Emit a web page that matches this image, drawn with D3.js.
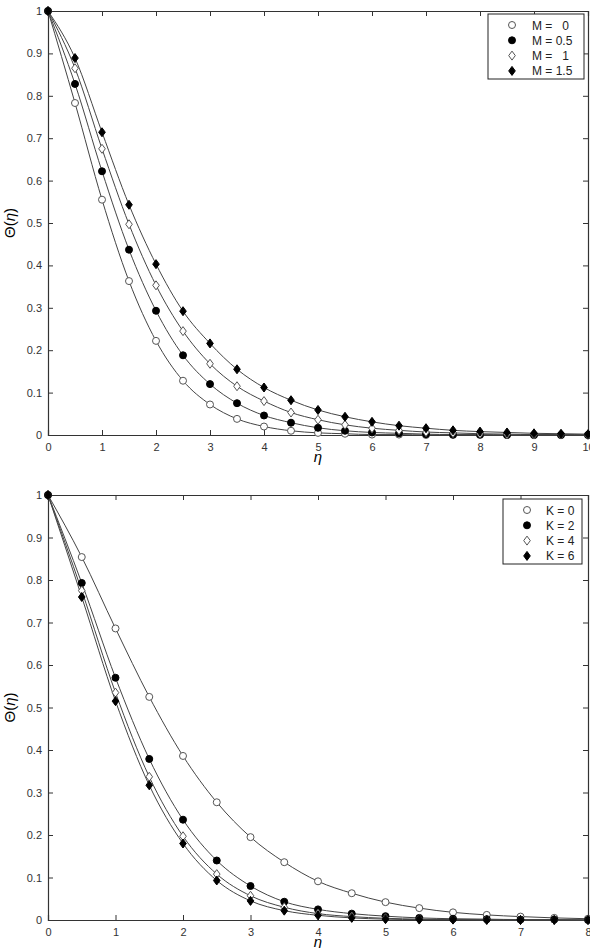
<!DOCTYPE html>
<html><head><meta charset="utf-8">
<script src="https://cdn.jsdelivr.net/npm/d3@7"></script>
<style>
body{margin:0;background:#fff;}
svg{display:block;}
text{font-family:"Liberation Sans",Arial,sans-serif;}
</style></head>
<body><svg id="c" width="590" height="948"></svg>
<script>
// ---- Top panel (effect of M) ----
const etaTop = [0,0.5,1,1.5,2,2.5,3,3.5,4,4.5,5,5.5,6,6.5,7,7.5,8,8.5,9,9.5,10];
const thetaM0   = [1,0.783,0.555,0.363,0.222,0.128,0.072,0.038,0.020,0.010,0.005,0.003,0.001,0.001,0,0,0,0,0,0,0];
const thetaM05  = [1,0.828,0.622,0.437,0.293,0.188,0.120,0.075,0.046,0.029,0.017,0.010,0.006,0.004,0.002,0.001,0.001,0,0,0,0];
const thetaM1   = [1,0.865,0.675,0.497,0.353,0.245,0.168,0.115,0.080,0.053,0.036,0.024,0.016,0.011,0.007,0.005,0.003,0.002,0.001,0.001,0];
const thetaM15  = [1,0.889,0.714,0.543,0.403,0.292,0.216,0.155,0.112,0.082,0.059,0.043,0.031,0.022,0.016,0.011,0.008,0.006,0.004,0.003,0.002];
const labelsTop = ["M =   0","M = 0.5","M =   1","M = 1.5"];
const xTicksTop = [0,1,2,3,4,5,6,7,8,9,10];

// ---- Bottom panel (effect of K) ----
const etaBot = [0,0.5,1,1.5,2,2.5,3,3.5,4,4.5,5,5.5,6,6.5,7,7.5,8];
const thetaK0 = [1,0.854,0.686,0.525,0.386,0.277,0.195,0.136,0.091,0.063,0.042,0.028,0.018,0.012,0.008,0.005,0.003];
const thetaK2 = [1,0.793,0.570,0.379,0.236,0.140,0.080,0.043,0.025,0.015,0.009,0.005,0.003,0.002,0.001,0.001,0];
const thetaK4 = [1,0.775,0.535,0.337,0.197,0.108,0.057,0.030,0.015,0.008,0.004,0.002,0.001,0.001,0,0,0];
const thetaK6 = [1,0.760,0.515,0.317,0.180,0.093,0.045,0.022,0.011,0.005,0.002,0.001,0.001,0,0,0,0];
const labelsBot = ["K = 0","K = 2","K = 4","K = 6"];
const xTicksBot = [0,1,2,3,4,5,6,7,8];

const yTicks = [0,0.1,0.2,0.3,0.4,0.5,0.6,0.7,0.8,0.9,1];
const markerTypes = ["openCircle","filledCircle","openDiamond","filledDiamond"];

const svg = d3.select("#c");
const axisCol = "#333";

function drawMarker(g, type, x, y){
  if(type.endsWith("Circle")){
    g.append("circle").attr("cx",x).attr("cy",y).attr("r",3.5)
      .attr("fill", type==="filledCircle" ? "#000" : "#fff")
      .attr("stroke", type==="filledCircle" ? "#000" : "#555").attr("stroke-width",1);
  } else {
    const w=3.3,h=4.5;
    g.append("path").attr("d",`M${x},${y-h}L${x+w},${y}L${x},${y+h}L${x-w},${y}Z`)
      .attr("fill", type==="filledDiamond" ? "#000" : "#fff")
      .attr("stroke", type==="filledDiamond" ? "#000" : "#555").attr("stroke-width",1);
  }
}

function panel(opt){
  const {x0,x1,y0,y1,xDomain,xTicks,eta,series,labels,legend} = opt;
  const x = d3.scaleLinear().domain(xDomain).range([x0,x1]);
  const y = d3.scaleLinear().domain([0,1]).range([y1,y0]);
  const g = svg.append("g");
  const tl = 5;
  const axB = d3.axisBottom(x).tickValues(xTicks).tickSize(-tl).tickPadding(8).tickFormat(d3.format("d"));
  const axT = d3.axisTop(x).tickValues(xTicks).tickSize(-tl).tickFormat("");
  const axL = d3.axisLeft(y).tickValues(yTicks).tickSize(-tl).tickPadding(6).tickFormat(d=>d===0?"0":d===1?"1":d3.format(".1f")(d));
  const axR = d3.axisRight(y).tickValues(yTicks).tickSize(-tl).tickFormat("");
  [[axB,`translate(0,${y1})`],[axT,`translate(0,${y0})`],[axL,`translate(${x0},0)`],[axR,`translate(${x1},0)`]].forEach(([a,t])=>{
    const ag = g.append("g").attr("transform",t).call(a);
    ag.select(".domain").attr("stroke",axisCol).attr("stroke-width",1.2);
    ag.selectAll(".tick line").attr("stroke",axisCol);
    ag.selectAll("text").attr("font-size",11).attr("fill","#333");
  });
  const line = d3.line().x((d,i)=>x(eta[i])).y(d=>y(d)).curve(d3.curveMonotoneX);
  series.forEach((s,k)=>{
    g.append("path").datum(s).attr("d",line).attr("fill","none").attr("stroke","#444").attr("stroke-width",1);
  });
  series.forEach((s,k)=>{
    s.forEach((v,i)=>drawMarker(g, markerTypes[k], x(eta[i]), y(v)));
  });
  g.append("text").attr("x",(x0+x1)/2).attr("y",y1+27).attr("text-anchor","middle")
    .attr("font-family","Liberation Serif, serif").attr("font-style","italic").attr("font-size",15).text("η");
  const yl = g.append("text").attr("transform",`translate(15,${(y0+y1)/2}) rotate(-90)`).attr("text-anchor","middle")
    .attr("font-family","Liberation Serif, serif").attr("font-size",15);
  yl.append("tspan").text("Θ(");
  yl.append("tspan").attr("font-style","italic").text("η");
  yl.append("tspan").text(")");
  const L = legend;
  const lg = g.append("g");
  lg.append("rect").attr("x",L.x).attr("y",L.y).attr("width",L.w).attr("height",L.h)
    .attr("fill","#fff").attr("stroke","#222").attr("stroke-width",1);
  labels.forEach((lab,k)=>{
    const cy = L.y + 11 + k*15.3;
    drawMarker(lg, markerTypes[k], L.mx, cy);
    lg.append("text").attr("x",L.tx).attr("y",cy+4.5).attr("font-size",12).attr("fill","#222")
      .attr("xml:space","preserve").style("white-space","pre").text(lab);
  });
}

panel({x0:48,x1:588,y0:11,y1:435,xDomain:[0,10],xTicks:xTicksTop,eta:etaTop,
  series:[thetaM0,thetaM05,thetaM1,thetaM15],labels:labelsTop,
  legend:{x:488,y:14,w:96,h:65,mx:512,tx:532}});
panel({x0:48,x1:588,y0:495,y1:920,xDomain:[0,8],xTicks:xTicksBot,eta:etaBot,
  series:[thetaK0,thetaK2,thetaK4,thetaK6],labels:labelsBot,
  legend:{x:503,y:499,w:79,h:65,mx:527,tx:546}});
</script></body></html>
